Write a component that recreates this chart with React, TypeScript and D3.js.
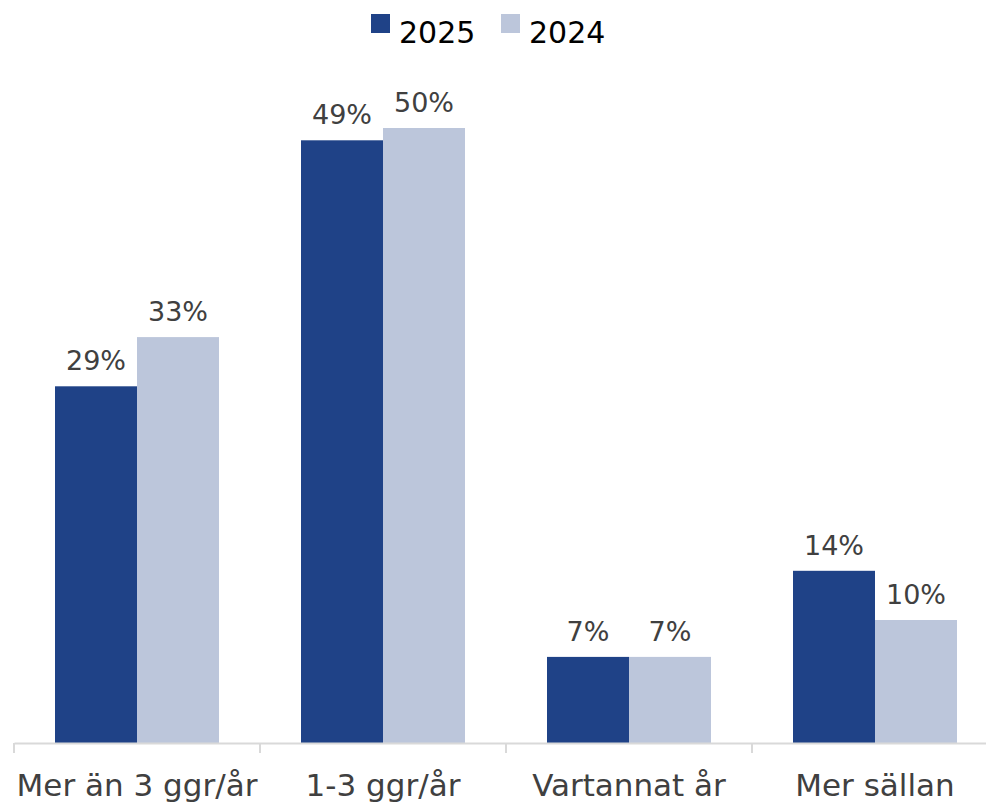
import * as d3 from "d3";
import { useEffect, useRef } from "react";

const categories = ["Mer än 3 ggr/år", "1-3 ggr/år", "Vartannat år", "Mer sällan"];
const seriesNames = ["2025", "2024"];
const values2025 = [29, 49, 7, 14];
const values2024 = [33, 50, 7, 10];

const colors = ["#1f4287", "#bcc6db"];

export default function App() {
  const ref = useRef<SVGSVGElement | null>(null);

  useEffect(() => {
    if (!ref.current) return;
    const svg = d3.select(ref.current);
    svg.selectAll("*").remove();

    const baseY = 743;
    const font = "'DejaVu Sans', sans-serif";

    const x = d3.scaleBand().domain(categories).range([14, 998]);
    const inner = d3
      .scaleBand()
      .domain(seriesNames)
      .range([41, x.bandwidth() - 41]);
    const y = d3.scaleLinear().domain([0, 50]).range([baseY, 128]);

    const data = categories.map((c, i) => ({
      cat: c,
      vals: [
        { s: seriesNames[0], v: values2025[i] },
        { s: seriesNames[1], v: values2024[i] },
      ],
    }));

    const groups = svg
      .append("g")
      .selectAll("g")
      .data(data)
      .join("g")
      .attr("transform", (d) => `translate(${x(d.cat)},0)`);

    groups
      .selectAll("rect")
      .data((d) => d.vals)
      .join("rect")
      .attr("x", (d) => inner(d.s)!)
      .attr("y", (d) => y(d.v))
      .attr("width", inner.bandwidth())
      .attr("height", (d) => baseY - y(d.v))
      .attr("fill", (d, i) => colors[i]);

    groups
      .selectAll("text")
      .data((d) => d.vals)
      .join("text")
      .attr("x", (d) => inner(d.s)! + inner.bandwidth() / 2)
      .attr("y", (d) => y(d.v) - 16)
      .attr("text-anchor", "middle")
      .attr("font-family", font)
      .attr("font-size", 27)
      .attr("fill", "#404040")
      .text((d) => `${d.v}%`);

    // axis
    const axis = svg.append("g").attr("transform", `translate(0,${baseY})`);
    axis
      .call(d3.axisBottom(x).tickSize(0).tickFormat(() => ""))
      .select(".domain")
      .attr("stroke", "#d9d9d9")
      .attr("stroke-width", 2);
    axis
      .selectAll("line.sep")
      .data(d3.range(categories.length + 1))
      .join("line")
      .attr("class", "sep")
      .attr("x1", (i) => 14 + i * x.bandwidth())
      .attr("x2", (i) => 14 + i * x.bandwidth())
      .attr("y1", 0)
      .attr("y2", 10)
      .attr("stroke", "#d9d9d9")
      .attr("stroke-width", 2);

    svg
      .append("g")
      .selectAll("text")
      .data(categories)
      .join("text")
      .attr("x", (d) => x(d)! + x.bandwidth() / 2)
      .attr("y", 796)
      .attr("text-anchor", "middle")
      .attr("font-family", font)
      .attr("font-size", 31)
      .attr("fill", "#404040")
      .text((d) => d);

    // legend
    const legendX = [371, 501];
    const legend = svg
      .append("g")
      .selectAll("g")
      .data(seriesNames)
      .join("g")
      .attr("transform", (d, i) => `translate(${legendX[i]},14)`);
    legend
      .append("rect")
      .attr("width", 19)
      .attr("height", 19)
      .attr("fill", (d, i) => colors[i]);
    legend
      .append("text")
      .attr("x", 28)
      .attr("y", 20)
      .attr("font-family", font)
      .attr("font-size", 30)
      .attr("fill", "#000")
      .attr("dominant-baseline", "middle")
      .text((d) => d);
  }, []);

  return (
    <svg
      ref={ref}
      width={986}
      height={805}
      style={{ position: "absolute", top: 0, left: 0, background: "#fff" }}
    />
  );
}
